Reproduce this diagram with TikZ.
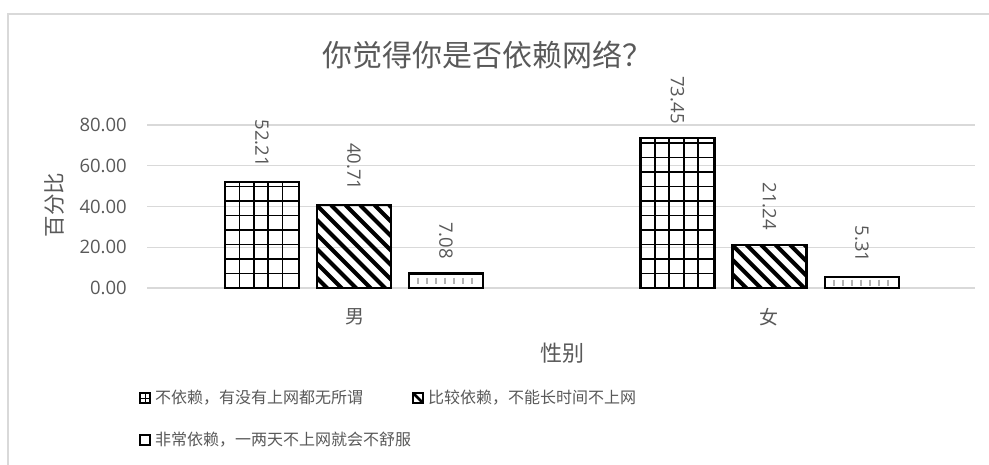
\documentclass[tikz,border=0pt]{standalone}
\usepackage{fontspec}
\setmainfont{Open Sans}
\newfontfamily\cjk{Noto Sans CJK SC}
\definecolor{txtgray}{HTML}{595959}
\definecolor{linegray}{HTML}{D9D9D9}

\begin{document}
\begin{tikzpicture}[x=1pt,y=-1pt,
    gline/.style={linegray,line width=1.2pt},
    ticklab/.style={anchor=east,inner sep=0pt,text=txtgray,font=\fontsize{18.5}{18.5}\selectfont},
    vallab/.style={rotate=-90,anchor=east,inner sep=0pt,text=txtgray,font=\fontsize{18.5}{18.5}\selectfont},
    cjklab/.style={inner sep=0pt,text=txtgray},
    barbox/.style={draw=black,line width=2.2pt},
    hatch/.style={black,line width=1.7pt},
    stripe/.style={black,line width=4pt},
    speck/.style={gray!60,line width=1.6pt}]
  \useasboundingbox[fill=white] (0,0) rectangle (989,464);
  \draw[linegray,line width=1.5pt] (8,470) -- (8,14) -- (995,14);

  % title and axis names
  \node[cjklab,font=\cjk\fontsize{30}{30}\selectfont] (title) at (487,55) {你觉得你是否依赖网络？};
  \node[cjklab,font=\cjk\fontsize{21.5}{21.5}\selectfont,rotate=90] (ytitle) at (54,205) {百分比};
  \node[cjklab,font=\cjk\fontsize{22}{22}\selectfont] (xtitle) at (562,353) {性别};
  \node[cjklab,font=\cjk\fontsize{19}{19}\selectfont] (male) at (355,317) {男};
  \node[cjklab,font=\cjk\fontsize{19}{19}\selectfont] (female) at (769,317) {女};

  % grid lines and ticks
  \foreach \v in {0,20,40,60,80}{
    \draw[gline] (147,288-2.0375*\v) -- (975,288-2.0375*\v);
    \node[ticklab] (t\v) at (127,288-2.0375*\v) {\v.00};
  }

  % bars: not dependent
  \foreach \x/\h/\n in {225/52.21/a, 640.5/73.45/d}{
    \pgfmathsetmacro\ytop{288-2.0375*\h}
    \begin{scope}
      \clip (\x,288) rectangle (\x+74,\ytop);
      \foreach \i in {1,...,4} \draw[hatch] (\x+\i*14.4,288) -- (\x+\i*14.4,\ytop);
      \foreach \j in {1,...,10} \draw[hatch] (\x,288-\j*14.5) -- (\x+74,288-\j*14.5);
    \end{scope}
    \draw[barbox] (\x,288) rectangle (\x+74,\ytop);
    \node[vallab] (v\n) at (\x+37,\ytop-14.5) {\h};
  }
  % bars: rather dependent
  \foreach \x/\h/\n in {317/40.71/b, 732.5/21.24/e}{
    \pgfmathsetmacro\ytop{288-2.0375*\h}
    \begin{scope}
      \clip (\x,288) rectangle (\x+74,\ytop);
      \foreach \s in {-160,-145.5,...,80} \draw[stripe] (\x+\s,\ytop) -- ++(170,170);
    \end{scope}
    \draw[barbox] (\x,288) rectangle (\x+74,\ytop);
    \node[vallab] (v\n) at (\x+37,\ytop-14.5) {\h};
  }
  % bars: very dependent
  \foreach \x/\h/\n in {409/7.08/c, 825/5.31/f}{
    \pgfmathsetmacro\ytop{288-2.0375*\h}
    \pgfmathsetmacro\ymid{(288+\ytop)/2}
    \foreach \s in {9,18,...,66} \draw[speck] (\x+\s,\ymid-3) -- (\x+\s,\ymid+3);
    \draw[barbox] (\x,288) rectangle (\x+74,\ytop);
    \node[vallab] (v\n) at (\x+37,\ytop-14.5) {\h};
  }

  % legend
  \begin{scope}
    \clip (140,393) rectangle (150,403);
    \draw[hatch,line width=1pt] (140,398) -- (150,398) (145,393) -- (145,403);
  \end{scope}
  \draw[black,line width=1.6pt] (140,393) rectangle (150,403);
  \node[cjklab,anchor=west,font=\cjk\fontsize{16}{16}\selectfont] (leg1) at (155,398) {不依赖，有没有上网都无所谓};
  \begin{scope}
    \clip (413,393) rectangle (423,403);
    \draw[stripe,line width=2.5pt] (411,391) -- (425,405);
  \end{scope}
  \draw[black,line width=1.6pt] (413,393) rectangle (423,403);
  \node[cjklab,anchor=west,font=\cjk\fontsize{16}{16}\selectfont] (leg2) at (428,398) {比较依赖，不能长时间不上网};
  \draw[black,line width=1.6pt] (140,435) rectangle (150,445);
  \node[cjklab,anchor=west,font=\cjk\fontsize{16}{16}\selectfont] (leg3) at (155,440) {非常依赖，一两天不上网就会不舒服};
\end{tikzpicture}
\end{document}
